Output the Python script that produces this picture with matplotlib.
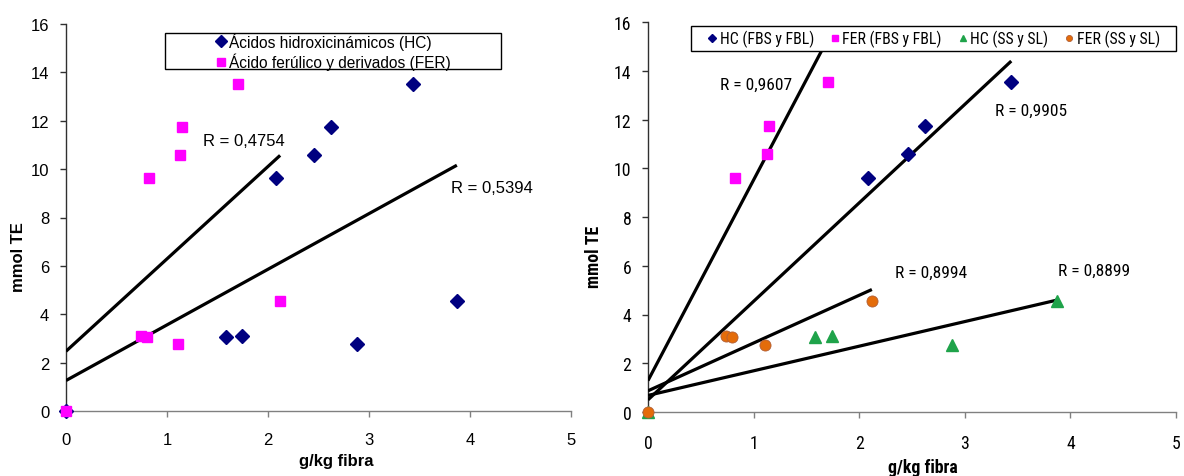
import matplotlib
matplotlib.use('Agg')
import matplotlib.pyplot as plt
from matplotlib.patches import Rectangle
from matplotlib import font_manager as fm
import numpy as np

# ---------------- data ----------------
# Left panel: all samples
hc_x = [0, 1.58, 1.74, 2.08, 2.46, 2.62, 2.88, 3.44, 3.87]
hc_y = [0, 3.08, 3.12, 9.62, 10.60, 11.73, 2.75, 13.52, 4.56]
fer_x = [0, 0.74, 0.80, 0.82, 1.11, 1.13, 1.15, 1.70, 2.12]
fer_y = [0, 3.12, 3.08, 9.62, 2.75, 10.60, 11.73, 13.52, 4.56]

# Right panel: split by group
hc_fbs_x = [2.08, 2.46, 2.62, 3.44]
hc_fbs_y = [9.62, 10.60, 11.73, 13.52]
fer_fbs_x = [0.82, 1.13, 1.15, 1.70]
fer_fbs_y = [9.62, 10.60, 11.73, 13.52]
hc_ss_x = [0, 1.58, 1.74, 2.88, 3.87]
hc_ss_y = [0, 3.08, 3.12, 2.75, 4.56]
fer_ss_x = [0, 0.74, 0.80, 1.11, 2.12]
fer_ss_y = [0, 3.12, 3.08, 2.75, 4.56]

# trend lines (intercept, slope)
left_fer_fit = (2.47, 3.82)
left_hc_fit = (1.26, 2.30)
right_fer_fbs_fit = (1.29, 8.23)
right_hc_fbs_fit = (0.50, 4.04)
right_fer_ss_fit = (0.87, 1.96)
right_hc_ss_fit = (0.68, 1.01)

left_r_labels = ["R = 0,4754", "R = 0,5394"]
right_r_labels = ["R = 0,9607", "R = 0,9905", "R = 0,8994", "R = 0,8899"]

left_legend = ["Ácidos hidroxicinámicos (HC)", "Ácido ferúlico y derivados (FER)"]
right_legend = ["HC (FBS y FBL)", "FER (FBS y FBL)", "HC (SS y SL)", "FER (SS y SL)"]

x_ticks = [0, 1, 2, 3, 4, 5]
y_ticks = [0, 2, 4, 6, 8, 10, 12, 14, 16]
x_label = "g/kg fibra"
y_label = "mmol TE"

# ---------------- style ----------------
NAVY = '#000080'
MAGENTA = '#FF00FF'
GREEN = '#1FA34A'
ORANGE = '#E46C0A'

names = {f.name for f in fm.fontManager.ttflist}
LFONT = ['Liberation Sans', 'DejaVu Sans']
RSTRETCH = 'normal'
if 'Liberation Sans Narrow' in names:
    RFONT = ['Liberation Sans Narrow', 'DejaVu Sans']
    rscale = 1.0
elif 'Roboto Condensed' in names:
    RFONT = ['Roboto Condensed', 'DejaVu Sans']
    rscale = 0.95
elif any(f.name == 'DejaVu Sans' and f.stretch == 'condensed' for f in fm.fontManager.ttflist):
    RFONT = ['DejaVu Sans']
    RSTRETCH = 'condensed'
    rscale = 0.85
else:
    RFONT = ['Liberation Sans', 'DejaVu Sans']
    rscale = 0.87

plt.rcParams['font.family'] = LFONT

fig = plt.figure(figsize=(11.84, 4.77), dpi=100)
W, H = 1184, 477


def make_axes(x0, x1, y0, y1):
    return fig.add_axes([x0 / W, 1 - y1 / H, (x1 - x0) / W, (y1 - y0) / H])


def style_axes(ax, font, fs, stretch='normal'):
    ax.set_xlim(0, 5)
    ax.set_ylim(0, 16)
    ax.set_xticks(x_ticks)
    ax.set_yticks(y_ticks)
    ax.set_xticklabels([str(t) for t in x_ticks], family=font, fontsize=fs, fontstretch=stretch)
    ax.set_yticklabels([str(t) for t in y_ticks], family=font, fontsize=fs, fontstretch=stretch)
    for s in ['top', 'right']:
        ax.spines[s].set_visible(False)
    ax.spines['bottom'].set_color('#808080')
    ax.spines['left'].set_color('#303030')
    ax.spines['bottom'].set_linewidth(1.0)
    ax.spines['left'].set_linewidth(1.0)
    ax.tick_params(axis='x', direction='out', length=4, width=1, color='#808080', pad=11)
    ax.tick_params(axis='y', direction='out', length=4, width=1, color='#303030', pad=8)
    ax.set_facecolor('white')


def trend(ax, fit, xs):
    b, m = fit
    xx = np.array([0, max(xs)])
    ax.plot(xx, b + m * xx, color='black', lw=2.3, zorder=3, solid_capstyle='butt')


# ---------------- left panel ----------------
axL = make_axes(66, 571, 25, 412)
style_axes(axL, LFONT, 12)
trend(axL, left_fer_fit, fer_x)
trend(axL, left_hc_fit, hc_x)
hL, = axL.plot(hc_x, hc_y, ls='none', marker='D', ms=7.5, color=NAVY, mec=NAVY, zorder=4, clip_on=False)
fL, = axL.plot(fer_x, fer_y, ls='none', marker='s', ms=7.5, color=MAGENTA, mec=MAGENTA, zorder=5, clip_on=False)
axL.text(1.353, 11.19, left_r_labels[0], ha='left', va='center', fontsize=12, family=LFONT, zorder=6)
axL.text(3.81, 9.26, left_r_labels[1], ha='left', va='center', fontsize=12, family=LFONT, zorder=6)
axL.set_xlabel(x_label, fontsize=12, fontweight='bold', family=LFONT)
axL.set_ylabel(y_label, fontsize=12, fontweight='bold', family=LFONT)
axL.xaxis.set_label_coords(0.535, -0.108)
axL.yaxis.set_label_coords(-0.079, 0.40)

# legend box
bx0, bx1, by0, by1 = 0.196, 0.861, 0.883, 0.976
axL.add_patch(Rectangle((bx0, by0), bx1 - bx0, by1 - by0, transform=axL.transAxes,
                        facecolor='white', edgecolor='black', lw=1.0, zorder=7))
legL = axL.legend([hL, fL], left_legend, loc='center',
                  bbox_to_anchor=((bx0 + bx1) / 2, (by0 + by1) / 2), bbox_transform=axL.transAxes,
                  frameon=False, handlelength=0.7, handletextpad=0.15, labelspacing=0.2,
                  borderpad=0, markerscale=0.75, prop={'family': LFONT, 'size': 11.2})
legL.set_zorder(8)

# ---------------- right panel ----------------
axR = make_axes(648, 1176, 23, 413)
style_axes(axR, RFONT, 13.5 * rscale, RSTRETCH)
trend(axR, right_fer_fbs_fit, fer_fbs_x)
trend(axR, right_hc_fbs_fit, hc_fbs_x)
trend(axR, right_fer_ss_fit, fer_ss_x)
trend(axR, right_hc_ss_fit, hc_ss_x)
h1, = axR.plot(hc_fbs_x, hc_fbs_y, ls='none', marker='D', ms=7, color=NAVY, mec=NAVY, zorder=4, clip_on=False)
h2, = axR.plot(fer_fbs_x, fer_fbs_y, ls='none', marker='s', ms=6.8, color=MAGENTA, mec=MAGENTA, zorder=4, clip_on=False)
h3, = axR.plot(hc_ss_x, hc_ss_y, ls='none', marker='^', ms=8, color=GREEN, mec=GREEN, zorder=4, clip_on=False)
h4, = axR.plot(fer_ss_x, fer_ss_y, ls='none', marker='o', ms=8, color=ORANGE, mec='#B0603A', mew=0.6, zorder=5, clip_on=False)
r_pos = [(0.678, 13.46), (3.283, 12.36), (2.337, 5.74), (3.88, 5.81)]
for (tx, ty), lab in zip(r_pos, right_r_labels):
    axR.text(tx, ty, lab, ha='left', va='center', fontsize=13.2 * rscale, family=RFONT,
             fontstretch=RSTRETCH, zorder=6)
axR.set_xlabel(x_label, fontsize=13.5 * rscale, fontweight='bold', family=RFONT, fontstretch=RSTRETCH)
axR.set_ylabel(y_label, fontsize=13.5 * rscale, fontweight='bold', family=RFONT, fontstretch=RSTRETCH)
axR.xaxis.set_label_coords(0.521, -0.118)
axR.yaxis.set_label_coords(-0.085, 0.40)
axR.tick_params(axis='x', pad=12)

rx0, rx1, ry0, ry1 = 0.082, 1.0, 0.925, 0.989
axR.add_patch(Rectangle((rx0, ry0), rx1 - rx0, ry1 - ry0, transform=axR.transAxes,
                        facecolor='white', edgecolor='black', lw=1.0, zorder=7, clip_on=False))

box_w_px = (rx1 - rx0) * (1176 - 648)
leg_size = 13 * rscale
legR = None
for _ in range(12):
    if legR is not None:
        legR.remove()
    legR = axR.legend([h1, h2, h3, h4], right_legend, loc='center', ncol=4,
                      bbox_to_anchor=((rx0 + rx1) / 2, (ry0 + ry1) / 2), bbox_transform=axR.transAxes,
                      frameon=False, handlelength=0.6, handletextpad=0.2, columnspacing=1.0,
                      borderpad=0, markerscale=0.55,
                      prop={'family': RFONT, 'size': leg_size, 'stretch': RSTRETCH})
    legR.set_zorder(8)
    fig.canvas.draw()
    if legR.get_window_extent().width <= box_w_px - 24:
        break
    leg_size *= 0.96

fig.savefig('out.png', dpi=100, facecolor='white')
